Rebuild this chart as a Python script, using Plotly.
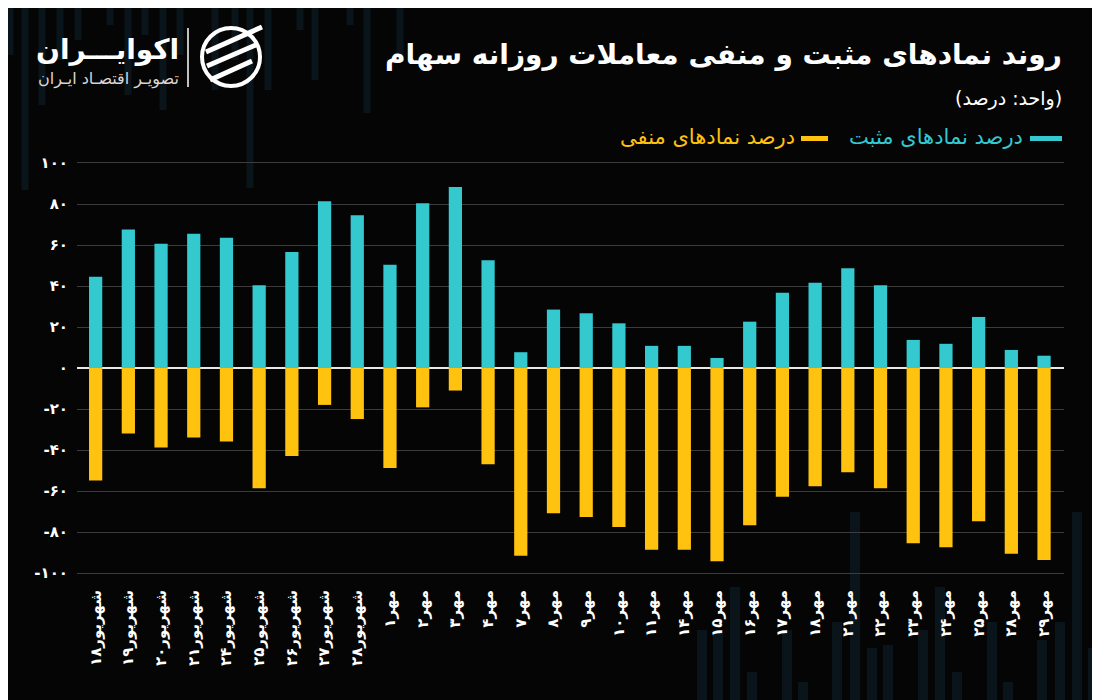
import plotly.graph_objects as go

# ---------------- data ----------------
categories = ["شهریور۱۸", "شهریور۱۹", "شهریور۲۰", "شهریور۲۱", "شهریور۲۴", "شهریور۲۵",
              "شهریور۲۶", "شهریور۲۷", "شهریور۲۸", "مهر۱", "مهر۲", "مهر۳", "مهر۴", "مهر۷",
              "مهر۸", "مهر۹", "مهر۱۰", "مهر۱۱", "مهر۱۴", "مهر۱۵", "مهر۱۶", "مهر۱۷", "مهر۱۸",
              "مهر۲۱", "مهر۲۲", "مهر۲۳", "مهر۲۴", "مهر۲۵", "مهر۲۸", "مهر۲۹"]
positive = [44.5, 67.5, 60.6, 65.5, 63.5, 40.4, 56.6, 81.4, 74.5, 50.4, 80.4, 88.3, 52.6, 7.7,
            28.5, 26.7, 21.8, 10.8, 10.8, 4.9, 22.6, 36.7, 41.6, 48.6, 40.4, 13.7, 11.8, 24.9,
            8.8, 6.0]
negative = [-54.9, -31.9, -38.8, -33.9, -35.9, -58.7, -42.9, -18.0, -24.9, -48.8, -19.2, -11.0,
            -46.9, -91.6, -70.8, -72.7, -77.6, -88.6, -88.6, -94.3, -76.7, -62.8, -57.7, -50.8,
            -58.7, -85.5, -87.5, -74.7, -90.6, -93.6]
y_tickvals = [-100, -80, -60, -40, -20, 0, 20, 40, 60, 80, 100]
y_ticktext = ["-۱۰۰", "-۸۰", "-۶۰", "-۴۰", "-۲۰", "۰", "۲۰", "۴۰", "۶۰", "۸۰", "۱۰۰"]
series_names = ["درصد نمادهای مثبت", "درصد نمادهای منفی"]
title_text = "روند نمادهای مثبت و منفی معاملات روزانه سهام"
unit_text = "(واحد: درصد)"
logo_main = "اکوایـــران"
logo_sub = "تصویـر اقتصـاد ایـران"

# ---------------- style ----------------
TEAL = "#33c9cf"
YELLOW = "#ffc20e"
BG = "#050505"
FONT = "DejaVu Sans"
W, H = 1100, 700
OFF = 8  # page offset of the figure inside the browser page
# plot area in page pixels
PX0, PX1, PY0, PY1 = 77, 1064, 163, 573
L, R, T, B = PX0 - OFF, W - (PX1 - OFF), PY0 - OFF, H - (PY1 - OFF)
PW, PH = W - L - R, H - T - B


def pxx(X):
    return (X - OFF - L) / PW


def pxy(Y):
    return (H - B - (Y - OFF)) / PH


fig = go.Figure()
fig.add_trace(go.Bar(x=categories, y=positive, name=series_names[0], marker_color=TEAL,
                     marker_line_width=0))
fig.add_trace(go.Bar(x=categories, y=negative, name=series_names[1], marker_color=YELLOW,
                     marker_line_width=0))

shapes = []


def pshape(kind, x0, y0, x1, y1, **kw):
    # pixel-positioned decorative shape (page pixels)
    shapes.append(dict(type=kind, xref="paper", yref="paper", xsizemode="pixel",
                       ysizemode="pixel", xanchor=0, yanchor=1,
                       x0=x0 - OFF - L, x1=x1 - OFF - L,
                       y0=T - (y0 - OFF), y1=T - (y1 - OFF), **kw))


# decorative faint background bars (top-left and bottom-right)
deco_top = [(10, 55), (25, 190), (42, 105), (60, 60), (78, 40), (110, 25), (128, 95), (145, 35),
            (163, 110), (180, 55), (215, 90), (235, 60), (250, 188), (268, 90), (300, 30),
            (315, 80), (350, 25), (367, 113), (400, 60)]
for cx, yb in deco_top:
    pshape("rect", cx - 3.5, -10, cx + 3.5, yb, fillcolor="rgba(25,75,95,0.24)", line_width=0,
           layer="below")
deco_bot = [(702, 630), (718, 630), (735, 587), (752, 672), (787, 630), (803, 682), (837, 622),
            (855, 512), (872, 648), (888, 645), (923, 630), (940, 587), (957, 672), (992, 622),
            (1008, 682), (1042, 640), (1060, 622), (1077, 512), (1093, 648)]
for cx, yt in deco_bot:
    pshape("rect", cx - 5, yt, cx + 5, 710, fillcolor="rgba(25,75,95,0.24)", line_width=0,
           layer="below")

# legend dashes
pshape("rect", 1030, 136, 1062, 141, fillcolor=TEAL, line_width=0)
pshape("rect", 801, 136, 828, 141, fillcolor=YELLOW, line_width=0)

# logo: divider + icon
pshape("line", 188, 28, 188, 87, line=dict(color="white", width=1.5))
pshape("circle", 202, 28, 260, 86, line=dict(color="white", width=4))
pshape("line", 206, 52, 262, 27, line=dict(color="white", width=5))
pshape("line", 207, 66, 258, 44, line=dict(color="white", width=5))
pshape("line", 210, 80, 252, 61, line=dict(color="white", width=5))

annotations = [
    dict(text="<b>" + title_text + "</b>", x=pxx(1064), y=pxy(54), xanchor="right",
         yanchor="middle", font=dict(size=28, color="white", family=FONT)),
    dict(text=unit_text, x=pxx(1064), y=pxy(98), xanchor="right", yanchor="middle",
         font=dict(size=19, color="white", family=FONT)),
    dict(text=series_names[0], x=pxx(1025), y=pxy(137), xanchor="right", yanchor="middle",
         font=dict(size=21, color=TEAL, family=FONT)),
    dict(text=series_names[1], x=pxx(797), y=pxy(137), xanchor="right", yanchor="middle",
         font=dict(size=21, color=YELLOW, family=FONT)),
    dict(text="<b>" + logo_main + "</b>", x=pxx(181), y=pxy(50), xanchor="right",
         yanchor="middle", font=dict(size=28, color="white", family=FONT)),
    dict(text=logo_sub, x=pxx(181), y=pxy(79), xanchor="right", yanchor="middle",
         font=dict(size=16, color="#d8d8d8", family=FONT)),
]
for a in annotations:
    a.update(xref="paper", yref="paper", showarrow=False)

fig.update_layout(
    width=W, height=H,
    margin=dict(l=L, r=R, t=T, b=B, pad=0),
    paper_bgcolor=BG, plot_bgcolor="rgba(0,0,0,0)",
    barmode="relative", bargap=0.595,
    showlegend=False,
    shapes=shapes, annotations=annotations,
    font=dict(family=FONT, color="white"),
    xaxis=dict(range=[-0.57, 29.61], tickangle=-90, showgrid=False, zeroline=False,
               showline=True, mirror=True, linecolor="#3c3c3c", linewidth=1,
               ticks="outside", ticklen=10, tickcolor="rgba(0,0,0,0)",
               tickvals=categories, ticktext=["<b>" + c + "</b>" for c in categories],
               tickfont=dict(size=15, color="white", family=FONT), fixedrange=True),
    yaxis=dict(range=[-100, 100], tickvals=y_tickvals,
               ticktext=["<b>" + t + "</b>" for t in y_ticktext],
               showgrid=True, gridcolor="#3c3c3c", gridwidth=1,
               zeroline=True, zerolinecolor="#e8e8e8", zerolinewidth=2,
               showline=False, ticks="outside", ticklen=5, tickcolor="rgba(0,0,0,0)",
               tickfont=dict(size=15, color="white", family=FONT), fixedrange=True),
)

fig.write_html("out.html")
